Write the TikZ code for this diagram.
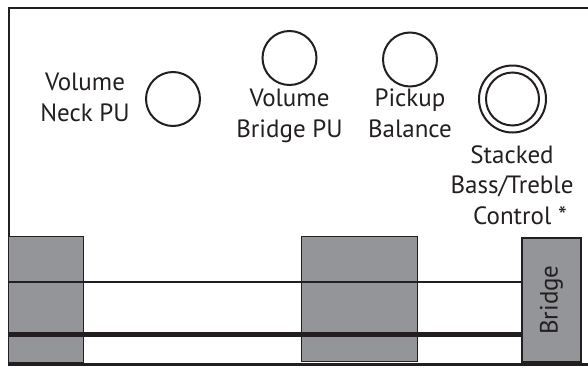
\documentclass[tikz,border=0pt]{standalone}
\usepackage{fontspec}
\setmainfont{PT Sans}
\usetikzlibrary{positioning}
\definecolor{ink}{HTML}{231F20}
\definecolor{pugray}{HTML}{939598}
\tikzset{
  knob/.style={draw=ink, line width=2pt, circle, minimum size=54pt, inner sep=0pt},
  lbl/.style={align=center, font=\fontsize{25}{30.5}\selectfont, text=ink, inner sep=0pt, anchor=base},
  pickup/.style={draw=ink, line width=1.6pt, fill=pugray, inner sep=0pt},
  string/.style={draw=ink, line width=2.6pt},
}

\begin{document}
\begin{tikzpicture}[x=1pt,y=-1pt]
\useasboundingbox (0,0) rectangle (588,367);
\draw [ink, line width=2.4pt] (588,8) -- (9,8) -- (9,364.5) -- (588,364.5);
\node [pickup, minimum width=75pt, minimum height=126pt] (neckpu) at (46,299.5) {};
\node [pickup, minimum width=116pt, minimum height=125pt] (bridgepu) at (359.5,299) {};
\node [pickup, minimum width=59.4pt, minimum height=124.5pt] (bridge) at (551.5,300) {};
\node [lbl, rotate=90, anchor=center] at (bridge.center) {Bridge};
\coordinate (nutA) at (9,282);
\coordinate (nutB) at (9,334.8);
\draw [string] (nutA) -- (nutA -| bridge.west);
\draw [string, line width=5pt] (nutB) -- (nutB -| bridge.west);
\node [knob] (volneck) at (173,99) {};
\node [knob] (volbridge) at (289.5,58) {};
\node [knob] (balance) at (410,59.5) {};
\node [knob, minimum size=67pt] (stacked) at (512.5,99) {};
\node [knob, minimum size=53pt] (stackedin) at (stacked.center) {};
\node [lbl] (volnecklbl) at (85,121) {Volume\\Neck PU};
\node [lbl] (volbridgelbl) at (289.5,137) {Volume\\Bridge PU};
\node [lbl] (balancelbl) at (410,137) {Pickup\\Balance};
\node [lbl] (stackedlbl) at (512,224) {Stacked\\Bass/Treble\\\hspace*{16pt}Control *};
\end{tikzpicture}
\end{document}
